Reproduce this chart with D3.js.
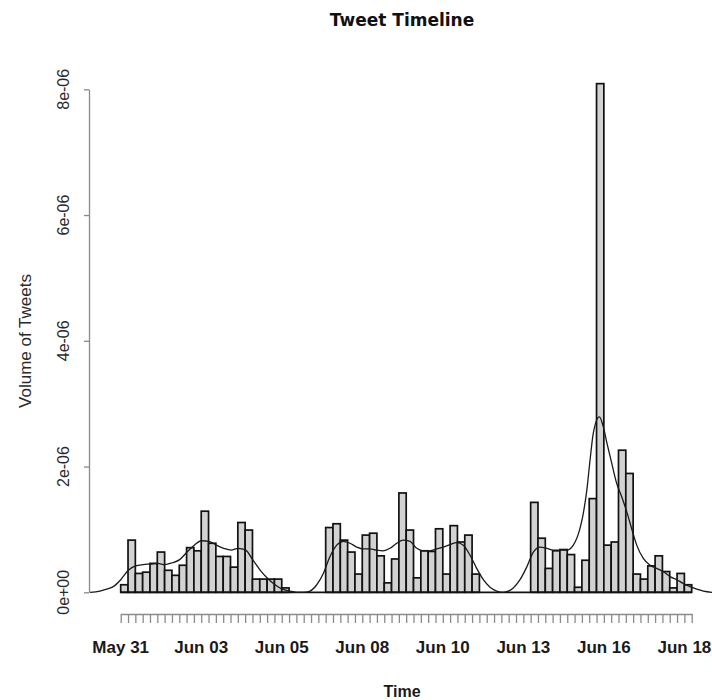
<!DOCTYPE html>
<html>
<head>
<meta charset="utf-8">
<script src="https://cdn.jsdelivr.net/npm/d3@7"></script>
<style>
  html, body { margin: 0; padding: 0; background: #fff; }
  svg { display: block; }
</style>
</head>
<body>
<svg id="chart" width="712" height="700"></svg>
<script>
// ---------------- data ----------------
// histogram bin densities (units of 1e-06), 78 bins of 20000 s each
const binDensity = [
  0.12, 0.83, 0.30, 0.32, 0.46, 0.64, 0.35, 0.27, 0.43, 0.71,
  0.66, 1.29, 0.78, 0.57, 0.57, 0.40, 1.11, 0.99, 0.21, 0.21,
  0.21, 0.21, 0.07, 0.00, 0.00, 0.00, 0.00, 0.00, 1.03, 1.09,
  0.83, 0.64, 0.29, 0.91, 0.94, 0.58, 0.15, 0.53, 1.58, 0.99,
  0.23, 0.66, 0.65, 1.01, 0.29, 1.06, 0.80, 0.91, 0.29, 0.00,
  0.00, 0.00, 0.00, 0.00, 0.00, 0.00, 1.43, 0.86, 0.38, 0.66,
  0.68, 0.60, 0.08, 0.51, 1.49, 8.09, 0.75, 0.80, 2.26, 1.89,
  0.29, 0.21, 0.42, 0.58, 0.33, 0.07, 0.30, 0.12
];
const binStart = Date.UTC(2013, 4, 31, 18, 20); // first break
const binSeconds = 20000;

// kernel density curve: position in bins from first break, value (1e-06)
const curvePos = [
  -4.19, -2.83, -1.91, -1.01, 0.00, 1.04, 2.05, 3.05, 4.04, 5.05,
  6.05, 7.05, 8.06, 9.06, 10.05, 11.07, 12.06, 13.06, 14.07, 15.07,
  16.07, 17.08, 18.07, 19.07, 20.08, 21.08, 22.08, 23.09, 23.95,
  24.90, 25.86, 26.78, 27.68, 28.59, 29.51, 30.41, 31.33, 32.24, 33.14,
  34.06, 34.97, 35.87, 36.79, 37.70, 38.61, 39.52, 40.44, 41.34, 42.25,
  43.17, 44.07, 44.99, 45.90, 46.80, 47.72, 48.63, 49.54, 50.45, 51.37, 52.23,
  52.73, 53.63, 54.55, 55.46, 56.37, 57.28, 58.20, 59.10, 60.01, 60.93,
  61.83, 62.75, 63.20, 63.67, 64.11, 64.56, 65.38, 65.93, 66.39, 67.08,
  67.76, 68.44, 69.13, 70.03, 70.49, 71.39, 72.31, 73.22, 74.12, 75.04,
  75.96, 76.86, 77.77, 78.69, 79.60, 80.79
];
const curveVal = [
  0.00, 0.02, 0.05, 0.09, 0.20, 0.35, 0.42, 0.44, 0.45, 0.46,
  0.44, 0.47, 0.52, 0.64, 0.75, 0.82, 0.81, 0.75, 0.70, 0.67,
  0.70, 0.67, 0.51, 0.35, 0.22, 0.12, 0.05, 0.02, 0.00,
  0.00, 0.02, 0.12, 0.30, 0.57, 0.75, 0.81, 0.78, 0.72, 0.69,
  0.69, 0.67, 0.66, 0.70, 0.78, 0.83, 0.81, 0.70, 0.66, 0.66,
  0.69, 0.72, 0.76, 0.79, 0.75, 0.59, 0.38, 0.20, 0.08, 0.02, 0.00,
  0.01, 0.07, 0.20, 0.40, 0.64, 0.72, 0.70, 0.67, 0.67, 0.67,
  0.75, 1.02, 1.26, 1.62, 2.10, 2.53, 2.79, 2.63, 2.39, 2.05,
  1.73, 1.52, 1.28, 0.92, 0.75, 0.54, 0.43, 0.38, 0.33, 0.25,
  0.20, 0.14, 0.09, 0.05, 0.02, 0.00
];

const xLabelEvery = 11;
const xTickLabels = ["May 31", "Jun 03", "Jun 05", "Jun 08", "Jun 10", "Jun 13", "Jun 16", "Jun 18"];
const yTicks = [0, 2e-6, 4e-6, 6e-6, 8e-6];
const yTickLabels = ["0e+00", "2e-06", "4e-06", "6e-06", "8e-06"];

const titleText = "Tweet Timeline";
const xTitle = "Time";
const yTitle = "Volume of Tweets";

// ---------------- drawing ----------------
const svg = d3.select("#chart");
const toDate = p => new Date(binStart + p * binSeconds * 1000);
const breaks = d3.range(binDensity.length + 1).map(toDate);

const x = d3.scaleUtc()
  .domain([breaks[0], breaks[breaks.length - 1]])
  .range([120.7, 691.7]);
const y = d3.scaleLinear().domain([0, 8e-6]).range([592.3, 89.3]);

// bars
svg.append("g")
  .selectAll("rect")
  .data(binDensity)
  .join("rect")
  .attr("x", (d, i) => x(breaks[i]))
  .attr("width", (d, i) => x(breaks[i + 1]) - x(breaks[i]))
  .attr("y", d => y(d * 1e-6))
  .attr("height", d => y(0) - y(d * 1e-6))
  .attr("fill", "#d2d2d2")
  .attr("stroke", "#111")
  .attr("stroke-width", 1.7);

// bar baseline (zero-height bins still draw their border)
svg.append("line")
  .attr("x1", x(breaks[0]))
  .attr("x2", x(breaks[breaks.length - 1]))
  .attr("y1", y(0)).attr("y2", y(0))
  .attr("stroke", "#111")
  .attr("stroke-width", 1.7);

// density curve
const pts = curvePos.map((p, i) => [toDate(p), curveVal[i] * 1e-6]);
svg.append("path")
  .datum(pts)
  .attr("fill", "none")
  .attr("stroke", "#1a1a1a")
  .attr("stroke-width", 1.3)
  .attr("d", d3.line().x(d => x(d[0])).y(d => y(d[1])).curve(d3.curveMonotoneX));

// x axis
const xAxis = d3.axisBottom(x)
  .tickValues(breaks)
  .tickSize(9)
  .tickSizeOuter(0)
  .tickFormat(() => "");
const gx = svg.append("g").attr("transform", "translate(0,614)").call(xAxis);
gx.select(".domain").attr("stroke", "#8a8a8a").attr("stroke-width", 1.3);
gx.selectAll(".tick line").attr("stroke", "#8a8a8a").attr("stroke-width", 1.3);

svg.append("g")
  .selectAll("text")
  .data(xTickLabels)
  .join("text")
  .attr("x", (d, i) => x(breaks[i * xLabelEvery]))
  .attr("y", 653)
  .attr("text-anchor", "middle")
  .attr("font-family", "Liberation Sans, Arial, sans-serif")
  .attr("font-weight", "bold")
  .attr("font-size", 17)
  .attr("fill", "#1a1a1a")
  .text(d => d);

// y axis
const yAxis = d3.axisLeft(y)
  .tickValues(yTicks)
  .tickSize(5)
  .tickSizeOuter(0)
  .tickFormat(() => "");
const gy = svg.append("g").attr("transform", "translate(89,0)").call(yAxis);
gy.select(".domain").attr("stroke", "#8a8a8a").attr("stroke-width", 1.3);
gy.selectAll(".tick line").attr("stroke", "#8a8a8a").attr("stroke-width", 1.3);

svg.append("g")
  .selectAll("text")
  .data(yTicks)
  .join("text")
  .attr("transform", d => `translate(69,${y(d)}) rotate(-90)`)
  .attr("text-anchor", "middle")
  .attr("font-family", "Liberation Sans, Arial, sans-serif")
  .attr("font-size", 16)
  .attr("fill", "#2a2a2a")
  .text((d, i) => yTickLabels[i]);

// titles
svg.append("text")
  .attr("x", 402).attr("y", 26)
  .attr("text-anchor", "middle")
  .attr("font-family", "DejaVu Sans, Verdana, sans-serif")
  .attr("font-weight", "bold")
  .attr("font-size", 17)
  .attr("fill", "#111")
  .text(titleText);

svg.append("text")
  .attr("x", 402).attr("y", 697)
  .attr("text-anchor", "middle")
  .attr("font-family", "Liberation Sans, Arial, sans-serif")
  .attr("font-weight", "bold")
  .attr("font-size", 16)
  .attr("fill", "#1a1a1a")
  .text(xTitle);

svg.append("text")
  .attr("transform", "translate(31,341) rotate(-90)")
  .attr("text-anchor", "middle")
  .attr("font-family", "Liberation Sans, Arial, sans-serif")
  .attr("font-size", 17)
  .attr("fill", "#2a2a2a")
  .text(yTitle);
</script>
</body>
</html>
